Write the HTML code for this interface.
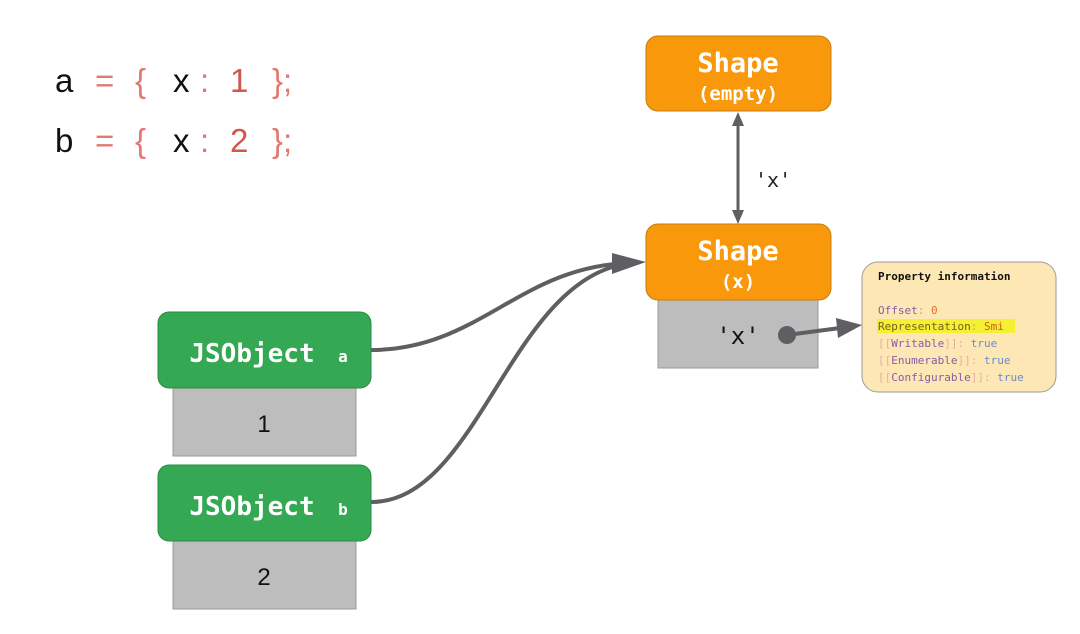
<!DOCTYPE html>
<html><head><style>
body{margin:0;width:1080px;height:634px;background:#fff;overflow:hidden}
svg{display:block}
.mono{font-family:"DejaVu Sans Mono","Liberation Mono",monospace}
.sans{font-family:"Liberation Sans",sans-serif}
</style></head><body>
<svg width="1080" height="634" viewBox="0 0 1080 634">
<defs>
<marker id="ah" markerWidth="10" markerHeight="10" refX="8" refY="5" orient="auto" markerUnits="userSpaceOnUse" viewBox="0 0 10 10"><path d="M0,0 L10,5 L0,10 z" fill="#5f5f63"/></marker>
</defs>
<!-- code -->
<g class="sans" font-size="33">
<text x="55" y="92" fill="#111">a</text>
<text x="95" y="92" fill="#e07a70">=</text>
<text x="135" y="92" fill="#e07a70">{</text>
<text x="173" y="92" fill="#111">x</text>
<text x="200" y="92" fill="#e07a70">:</text>
<text x="230" y="92" fill="#d0574a">1</text>
<text x="272" y="92" fill="#e07a70">};</text>
<text x="55" y="152" fill="#111">b</text>
<text x="95" y="152" fill="#e07a70">=</text>
<text x="135" y="152" fill="#e07a70">{</text>
<text x="173" y="152" fill="#111">x</text>
<text x="200" y="152" fill="#e07a70">:</text>
<text x="230" y="152" fill="#d0574a">2</text>
<text x="272" y="152" fill="#e07a70">};</text>
</g>
<!-- connectors -->
<path d="M371,350 C480,350 520,265 632,263" stroke="#5f5f63" stroke-width="4" fill="none"/>
<path d="M371,502 C480,502 510,275 632,263" stroke="#5f5f63" stroke-width="4" fill="none"/>
<path d="M612,253 L646,262 L612,274 z" fill="#5f5f63"/>
<line x1="738" y1="124" x2="738" y2="212" stroke="#5f5f63" stroke-width="3"/>
<path d="M732,126 L738,112 L744,126 z" fill="#5f5f63"/>
<path d="M732,210 L738,224 L744,210 z" fill="#5f5f63"/>
<text x="755" y="187" class="mono" font-size="20" fill="#222">'x'</text>
<!-- shapes -->
<rect x="646" y="36" width="185" height="75" rx="12" fill="#f9980a" stroke="#c97a10" stroke-width="1"/>
<text x="738" y="72" text-anchor="middle" class="mono" font-weight="bold" font-size="27" fill="#fff">Shape</text>
<text x="738" y="100" text-anchor="middle" class="mono" font-weight="bold" font-size="19" fill="#fff">(empty)</text>
<rect x="658" y="298" width="160" height="70" fill="#bdbdbd" stroke="#9a9a9a"/>
<rect x="646" y="224" width="185" height="76" rx="12" fill="#f9980a" stroke="#c97a10" stroke-width="1"/>
<text x="738" y="260" text-anchor="middle" class="mono" font-weight="bold" font-size="27" fill="#fff">Shape</text>
<text x="738" y="288" text-anchor="middle" class="mono" font-weight="bold" font-size="19" fill="#fff">(x)</text>
<text x="738" y="344" text-anchor="middle" class="mono" font-size="24" fill="#111">'x'</text>
<circle cx="787" cy="335" r="9" fill="#5f5f63"/>
<line x1="787" y1="335" x2="840" y2="328" stroke="#5f5f63" stroke-width="4"/>
<path d="M836,318 L862,325 L838,338 z" fill="#5f5f63"/>
<!-- info -->
<rect x="862" y="262" width="194" height="130" rx="16" fill="#fde7b4" stroke="#9a9a9a"/>
<g class="mono" font-size="11">
<text x="878" y="280" font-weight="bold" fill="#111">Property information</text>
<text x="878" y="314" fill="#8a5aa8">Offset<tspan fill="#e69080">: </tspan><tspan fill="#e07030">0</tspan></text>
<rect x="877" y="319" width="138" height="14" fill="#f5f034"/>
<text x="878" y="330" fill="#7a5a20">Representation<tspan fill="#e69080">: </tspan><tspan fill="#d05a20">Smi</tspan></text>
<text x="878" y="347" fill="#8a5aa8"><tspan fill="#e6b0a0">[[</tspan>Writable<tspan fill="#e6b0a0">]]: </tspan><tspan fill="#6a8ad0">true</tspan></text>
<text x="878" y="364" fill="#8a5aa8"><tspan fill="#e6b0a0">[[</tspan>Enumerable<tspan fill="#e6b0a0">]]: </tspan><tspan fill="#6a8ad0">true</tspan></text>
<text x="878" y="381" fill="#8a5aa8"><tspan fill="#e6b0a0">[[</tspan>Configurable<tspan fill="#e6b0a0">]]: </tspan><tspan fill="#6a8ad0">true</tspan></text>
</g>
<!-- JSObjects -->
<rect x="173" y="386" width="183" height="70" fill="#bdbdbd" stroke="#9a9a9a"/>
<rect x="158" y="312" width="213" height="76" rx="11" fill="#34a853" stroke="#2a8a44"/>
<text x="252" y="362" text-anchor="middle" class="mono" font-weight="bold" font-size="26" fill="#fff">JSObject</text>
<text x="343" y="362" text-anchor="middle" class="mono" font-weight="bold" font-size="16" fill="#fff">a</text>
<text x="264" y="432" text-anchor="middle" class="sans" font-size="24" fill="#111">1</text>
<rect x="173" y="539" width="183" height="70" fill="#bdbdbd" stroke="#9a9a9a"/>
<rect x="158" y="465" width="213" height="76" rx="11" fill="#34a853" stroke="#2a8a44"/>
<text x="252" y="515" text-anchor="middle" class="mono" font-weight="bold" font-size="26" fill="#fff">JSObject</text>
<text x="343" y="515" text-anchor="middle" class="mono" font-weight="bold" font-size="16" fill="#fff">b</text>
<text x="264" y="585" text-anchor="middle" class="sans" font-size="24" fill="#111">2</text>
</svg>
</body></html>
